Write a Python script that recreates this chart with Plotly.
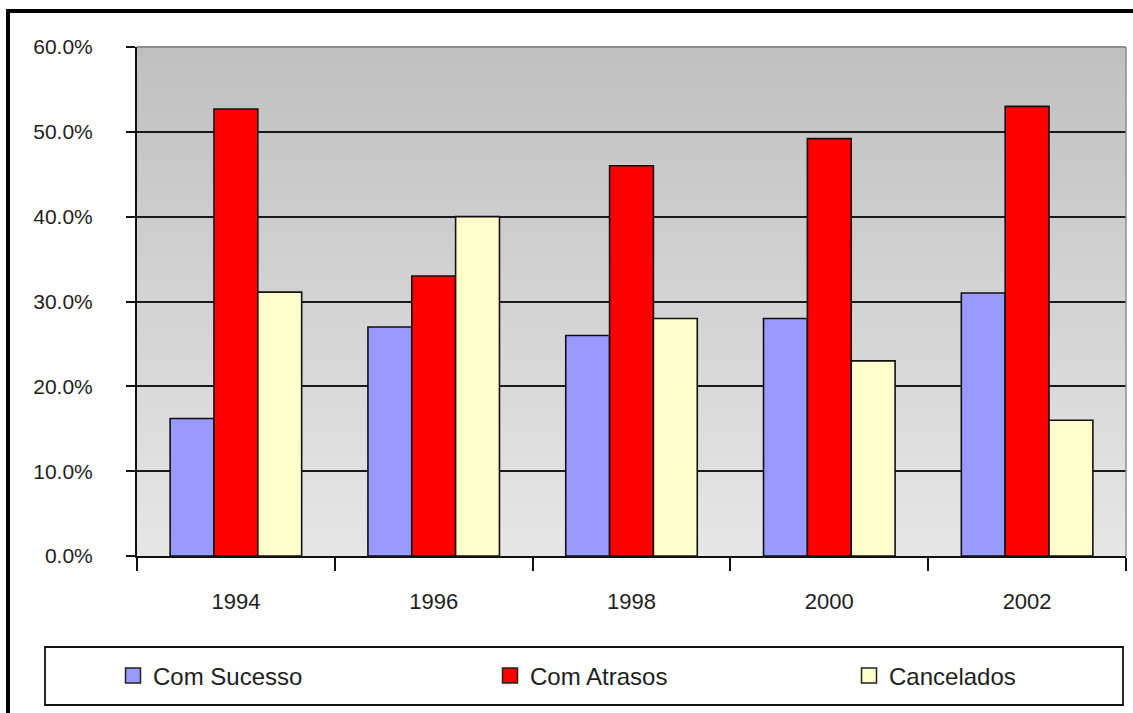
import plotly.graph_objects as go

# Percentages of projects per outcome, by survey year
years = ["1994", "1996", "1998", "2000", "2002"]
com_sucesso = [16.2, 27.0, 26.0, 28.0, 31.0]
com_atrasos = [52.7, 33.0, 46.0, 49.2, 53.0]
cancelados = [31.1, 40.0, 28.0, 23.0, 16.0]

series_names = ["Com Sucesso", "Com Atrasos", "Cancelados"]
series_colors = ["#9999FF", "#FF0000", "#FFFFCC"]
y_ticks = [0, 10, 20, 30, 40, 50, 60]
y_tick_text = [f"{v:.1f}%" for v in y_ticks]

W, H = 1133, 713
L, R, T, B = 137, 7, 47, 157
PW, PH = W - L - R, H - T - B


def px_x(px):
    return (px - L) / PW


def px_y(py):
    return (H - B - py) / PH


TEXT = "#1e1e1e"
FONT = "Liberation Sans, Arial, sans-serif"

fig = go.Figure()
for name, vals, col in zip(series_names, [com_sucesso, com_atrasos, cancelados], series_colors):
    fig.add_trace(go.Bar(
        x=years, y=vals, name=name, marker=dict(color=col, line=dict(color="#111", width=1.6)),
        showlegend=False,
    ))

# legend-only swatches, one legend box per entry
legend_names = ["legend", "legend2", "legend3"]
for name, col, lg in zip(series_names, series_colors, legend_names):
    fig.add_trace(go.Scatter(
        x=[None], y=[None], mode="markers", name=name, legend=lg,
        marker=dict(symbol="square", size=15, color=col, line=dict(color="#222", width=1.5)),
    ))

# vertical grey gradient of the plotting area
shapes = []
n = 80
for i in range(n):
    f = i / (n - 1)
    g = int(round(230 - (230 - 192) * f))
    shapes.append(dict(type="rect", xref="x domain", yref="y domain", x0=0, x1=1,
                       y0=i / n, y1=(i + 1) / n + 0.002, layer="below",
                       line=dict(width=0), fillcolor=f"rgb({g},{g},{g})"))
# grey top and right border of the plotting area
shapes.append(dict(type="line", xref="x domain", yref="y domain", x0=0, x1=1, y0=1, y1=1,
                   line=dict(color="#8c8c8c", width=2), layer="above"))
shapes.append(dict(type="line", xref="x domain", yref="y domain", x0=1, x1=1, y0=0, y1=1,
                   line=dict(color="#8c8c8c", width=1.5), layer="above"))
# legend frame
shapes.append(dict(type="rect", xref="paper", yref="paper", x0=px_x(45), x1=px_x(1123),
                   y0=px_y(705), y1=px_y(647), line=dict(color="#111", width=1.8),
                   fillcolor="rgba(0,0,0,0)", layer="above"))
# outer chart frame
shapes.append(dict(type="rect", xref="paper", yref="paper", x0=px_x(8), x1=px_x(1145),
                   y0=px_y(725), y1=px_y(11), line=dict(color="#000", width=4),
                   fillcolor="rgba(0,0,0,0)", layer="above"))

legend_style = dict(orientation="h", yanchor="middle", xanchor="left",
                    font=dict(family=FONT, size=24, color=TEXT), bgcolor="rgba(0,0,0,0)",
                    borderwidth=0, itemclick=False)
legend_x_px = [113, 490, 849]
layout_legends = {}
for lg, xp in zip(legend_names, legend_x_px):
    layout_legends[lg] = dict(legend_style, x=px_x(xp), y=px_y(676))

fig.update_layout(
    width=W, height=H,
    margin=dict(l=L, r=R, t=T, b=B, pad=0),
    paper_bgcolor="white",
    plot_bgcolor="#d6d6d6",
    barmode="group", bargap=0.335, bargroupgap=0,
    font=dict(family=FONT, color=TEXT),
    shapes=shapes,
    xaxis=dict(
        type="category", showgrid=False, showline=True, linecolor="#111", linewidth=2,
        ticks="outside", tickson="boundaries", ticklen=13, tickwidth=1.5, tickcolor="#111",
        tickfont=dict(family=FONT, size=22, color=TEXT), ticklabelstandoff=25,
        zeroline=False, fixedrange=True,
    ),
    yaxis=dict(
        range=[0, 60], tickvals=y_ticks, ticktext=y_tick_text,
        showgrid=True, gridcolor="#1a1a1a", gridwidth=1.8,
        showline=True, linecolor="#111", linewidth=2,
        ticks="outside", ticklen=9, tickwidth=1.5, tickcolor="#111",
        tickfont=dict(family=FONT, size=21, color=TEXT), ticklabelstandoff=29,
        zeroline=False, fixedrange=True,
    ),
    **layout_legends,
)

fig.write_html("out.html")
